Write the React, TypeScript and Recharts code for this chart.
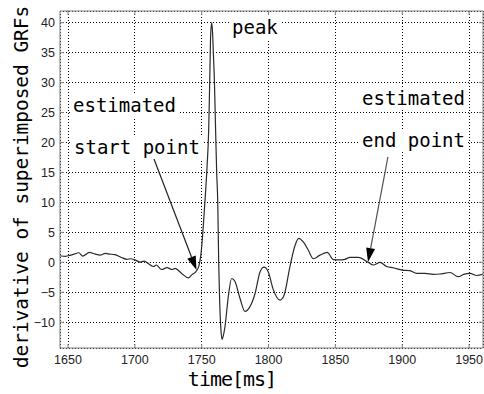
import React from 'react';
import {
  LineChart,
  Line,
  XAxis,
  YAxis,
  CartesianGrid,
  ReferenceLine,
} from 'recharts';

// time [ms]
const times = [
  1644, 1648, 1652, 1655, 1658, 1661, 1666, 1670, 1674, 1678, 1680, 1685, 1690, 1694, 1697,
  1700, 1704, 1707, 1710, 1714, 1716, 1720, 1724, 1728, 1730, 1735, 1740, 1742.5, 1746, 1748,
  1749.5, 1751, 1752.5, 1754, 1755.2, 1755.7, 1756.2, 1756.7, 1757.5, 1758.2, 1758.7, 1759.4,
  1760.4, 1761.2, 1762, 1762.7, 1763.4, 1764.3, 1765.2, 1766.2, 1767.4, 1769.9, 1772.4, 1774.9,
  1778.6, 1782.4, 1786.1, 1789.9, 1793.6, 1796.6, 1799.8, 1803.6, 1808.6, 1811.6, 1816, 1819.8,
  1822.5, 1826, 1829.7, 1833.5, 1838.5, 1843.9, 1848.4, 1853.4, 1857.1, 1860.9, 1867.1, 1874.6,
  1878.3, 1883.4, 1888.3, 1893.3, 1900, 1905.8, 1910.8, 1917, 1923.2, 1928.2, 1935.7, 1941.9,
  1946, 1950.7, 1955.7, 1960.6,
];

// derivative of superimposed GRFs
const derivative = [
  1.1, 1.0, 1.2, 1.4, 1.6, 1.05, 1.65, 1.4, 1.2, 1.5, 1.4, 1.3, 0.8, 0.5, 0.6,
  0.4, 0.05, 0.2, -0.2, -0.7, -0.45, -1.2, -0.9, -1.2, -1.0, -1.85, -2.6, -2.1, -1.45, -0.5,
  1.5, 5.5, 10.4, 16, 22, 27, 32.7, 38, 40, 38, 35, 31,
  22, 15, 10, 0, -6.3, -11, -12.9, -12.2, -10.75, -5.7, -2.7, -3.2,
  -6.0, -8.2, -7.4, -5.2, -1.6, -0.8, -1.6, -4.6, -6.3, -5.5, -0.7, 2.8,
  4.0, 3.4, 2.05, 0.6, 1.2, 1.65, 0.45, 0.4, 0.5, 0.83, 0.83, 0,
  -0.45, 0, -0.7, -0.9, -1.3, -1.4, -1.85, -1.85, -2.0, -1.95, -1.7, -2.4,
  -2.0, -1.85, -2.2, -1.95,
];

const xTicks = [1650, 1700, 1750, 1800, 1850, 1900, 1950];
const yTicks = [-10, -5, 0, 5, 10, 15, 20, 25, 30, 35, 40];

// annotation arrows: [tail, tip] in data units
const startArrow = [{ x: 1714.3, y: 17.25 }, { x: 1746.1, y: -1.3 }];
const endArrow = [{ x: 1889.3, y: 17.6 }, { x: 1874.4, y: 0.05 }];

const data = times.map((t, i) => ({ t, v: derivative[i] }));

const monoFont = '"DejaVu Sans Mono", monospace';

const Arrow = (props: any) => {
  const { x1, y1, x2, y2, color } = props;
  const ang = Math.atan2(y2 - y1, x2 - x1);
  const len = 14;
  const half = 4.5;
  const bx = x2 - len * Math.cos(ang);
  const by = y2 - len * Math.sin(ang);
  const px = -Math.sin(ang) * half;
  const py = Math.cos(ang) * half;
  return (
    <g>
      <line x1={x1} y1={y1} x2={bx} y2={by} stroke={color} strokeWidth={1.2} />
      <polygon
        points={`${x2},${y2} ${bx + px},${by + py} ${bx - px},${by - py}`}
        fill="#000"
      />
    </g>
  );
};

const Note = ({ text, left, top }: { text: string; left: number; top: number }) => (
  <div
    style={{
      position: 'absolute',
      left: left - 3,
      top: top - 2,
      padding: '2px 3px',
      background: '#fff',
      fontFamily: monoFont,
      fontSize: 19,
      lineHeight: '19px',
      color: '#000',
      whiteSpace: 'nowrap',
    }}
  >
    {text}
  </div>
);

const minus = (v: number) => String(v).replace('-', '\u2212');

export default function App() {
  return (
    <div style={{ position: 'absolute', left: 0, top: 0, width: 484, height: 394, background: '#fff' }}>
      <LineChart width={484} height={394} data={data} margin={{ top: 10, right: 0, bottom: 0, left: 0 }}>
        <CartesianGrid stroke="#000" strokeDasharray="1 2" strokeWidth={1} shapeRendering="crispEdges" />
        <XAxis
          dataKey="t"
          type="number"
          domain={[1644, 1960.4]}
          ticks={xTicks}
          allowDataOverflow
          height={46}
          stroke="#808080"
          tickSize={-4}
          tickMargin={11}
          tick={{ fill: '#222', fontSize: 12.5, fontFamily: '"Liberation Sans", Arial, sans-serif' }}
        />
        <XAxis
          xAxisId="top"
          orientation="top"
          dataKey="t"
          type="number"
          domain={[1644, 1960.4]}
          ticks={xTicks}
          allowDataOverflow
          height={1}
          stroke="#808080"
          tickSize={-4}
          tickFormatter={() => ''}
        />
        <YAxis
          type="number"
          domain={[-14.3, 41.95]}
          ticks={yTicks}
          allowDataOverflow
          width={60}
          stroke="#808080"
          tickSize={-4}
          tickMargin={9}
          tickFormatter={minus}
          tick={{ fill: '#222', fontSize: 12.5, fontFamily: '"Liberation Sans", Arial, sans-serif' }}
        />
        <YAxis
          yAxisId="right"
          orientation="right"
          type="number"
          domain={[-14.3, 41.95]}
          ticks={yTicks}
          allowDataOverflow
          width={1}
          stroke="#808080"
          tickSize={-4}
          tickFormatter={() => ''}
        />
        <Line
          dataKey="v"
          type="monotone"
          stroke="#2a2a2a"
          strokeWidth={1.2}
          dot={false}
          isAnimationActive={false}
        />
        <ReferenceLine
          segment={startArrow}
          ifOverflow="visible"
          shape={(p: any) => <Arrow {...p} color="#222" />}
        />
        <ReferenceLine
          segment={endArrow}
          ifOverflow="visible"
          shape={(p: any) => <Arrow {...p} color="#555" />}
        />
      </LineChart>

      <Note text="peak" left={232} top={18} />
      <Note text="estimated" left={73} top={96} />
      <Note text="start point" left={74} top={138} />
      <Note text="estimated" left={362} top={89} />
      <Note text="end point" left={362} top={131} />

      <div
        style={{
          position: 'absolute',
          left: 22,
          top: 187,
          transform: 'translate(-50%, -50%) rotate(-90deg)',
          fontFamily: monoFont,
          fontSize: 19.5,
          letterSpacing: -0.05,
          lineHeight: '20px',
          whiteSpace: 'nowrap',
          color: '#000',
          background: '#fff',
        }}
      >
        derivative of superimposed GRFs
      </div>
      <div
        style={{
          position: 'absolute',
          left: 232,
          top: 369,
          transform: 'translateX(-50%)',
          fontFamily: monoFont,
          fontSize: 20,
          letterSpacing: -1,
          lineHeight: '20px',
          whiteSpace: 'nowrap',
          color: '#000',
        }}
      >
        time[ms]
      </div>
    </div>
  );
}
